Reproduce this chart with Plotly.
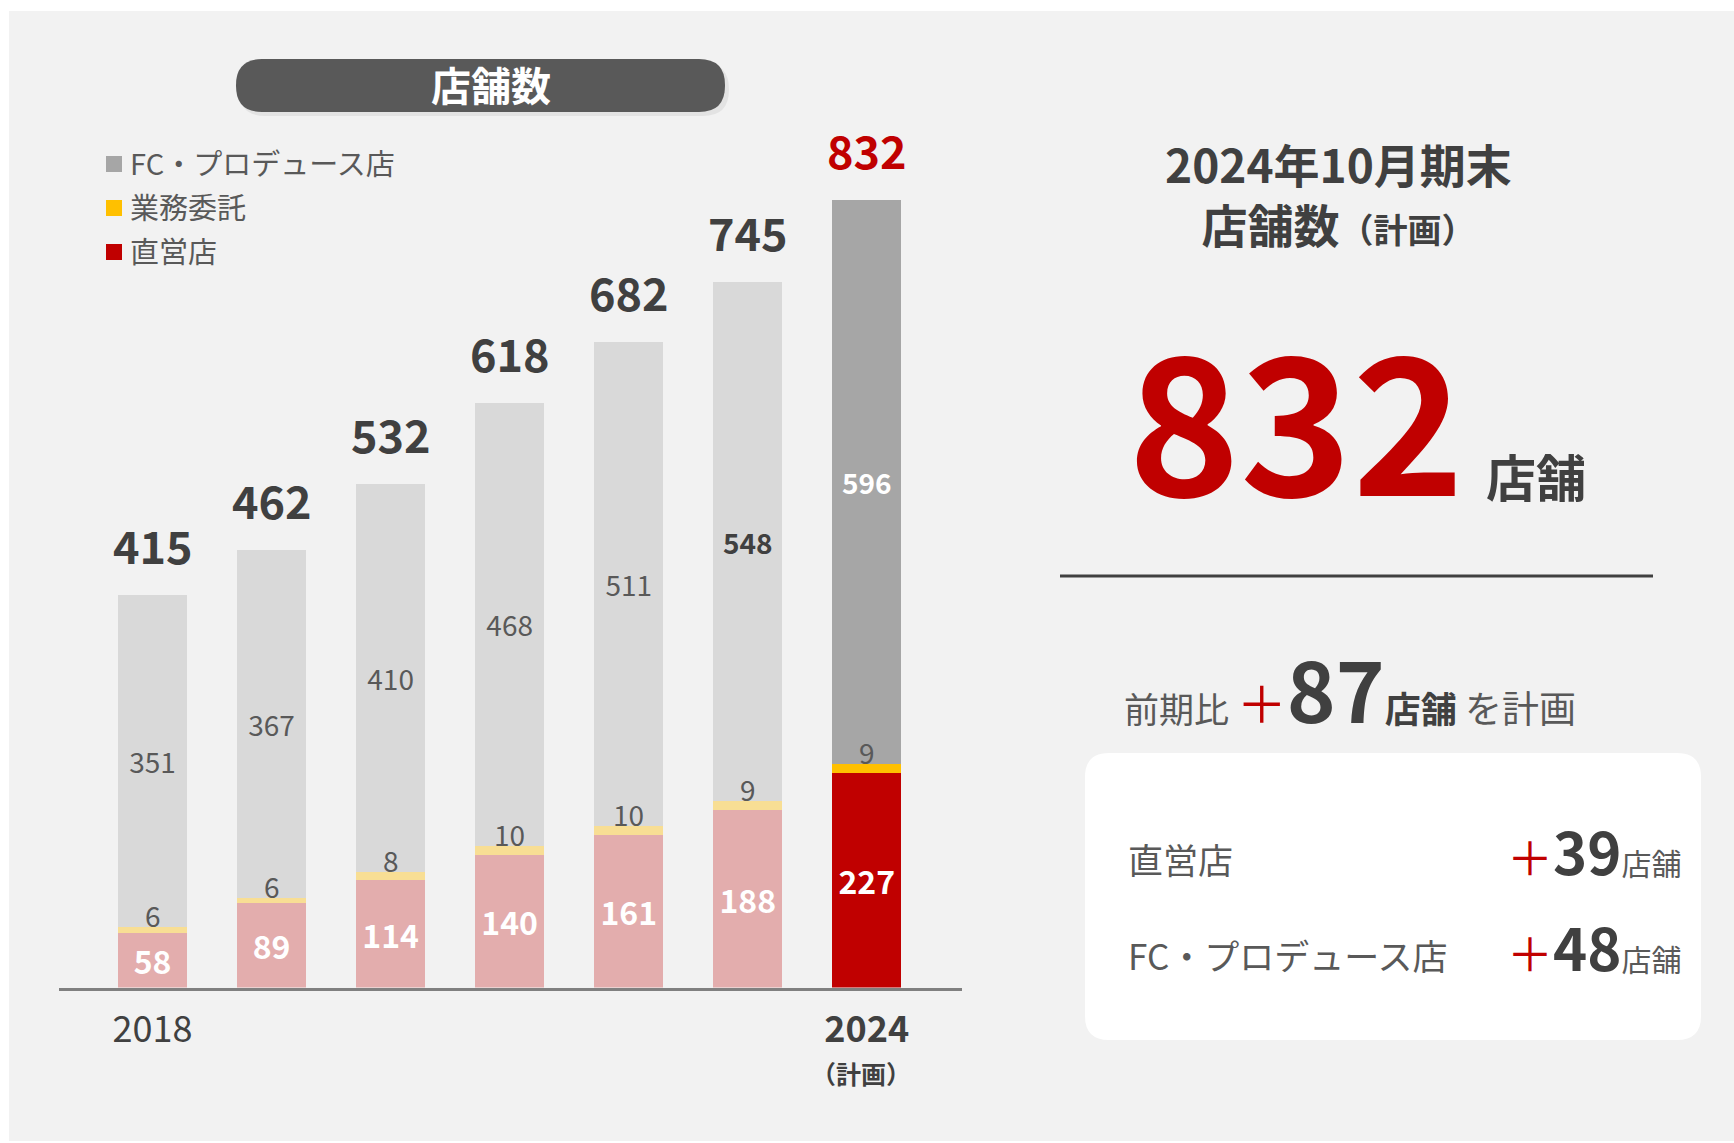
import plotly.graph_objects as go

W, H = 1734, 1143
FONT = "Noto Sans CJK JP"

# ---------------- data ----------------
years = ["2018", "2019", "2020", "2021", "2022", "2023", "2024"]
direct = [58, 89, 114, 140, 161, 188, 227]          # 直営店
outsourced = [6, 6, 8, 10, 10, 9, 9]                # 業務委託
fc = [351, 367, 410, 468, 511, 548, 596]            # FC・プロデュース店
totals = [415, 462, 532, 618, 682, 745, 832]
tick_years = ["2018", "2024"]
tick_labels = ["2018", "<b>2024</b>"]
plan_note = "（計画）"
legend_labels = ["FC・プロデュース店", "業務委託", "直営店"]
fc_text = ["351", "367", "410", "468", "511", "<b>548</b>", "<b>596</b>"]

# ---------------- styles ----------------
fc_colors = ["#D9D9D9"] * 6 + ["#A6A6A6"]
out_colors = ["#F8DE94"] * 6 + ["#FFC000"]
dir_colors = ["#E3ADAD"] * 6 + ["#C00000"]
fc_text_colors = ["#595959"] * 5 + ["#404040", "#FFFFFF"]
legend_colors = ["#A6A6A6", "#FFC000", "#C00000"]
DARK = "#404040"
MID = "#595959"
RED = "#C00000"


def px(x):
    return x / W


def py(y):
    return 1 - y / H


def rrect(x0, y0, x1, y1, r):
    pts = [
        ("M", [(x0 + r, y0)]), ("L", [(x1 - r, y0)]), ("Q", [(x1, y0), (x1, y0 + r)]),
        ("L", [(x1, y1 - r)]), ("Q", [(x1, y1), (x1 - r, y1)]), ("L", [(x0 + r, y1)]),
        ("Q", [(x0, y1), (x0, y1 - r)]), ("L", [(x0, y0 + r)]), ("Q", [(x0, y0), (x0 + r, y0)]),
    ]
    s = ""
    for cmd, ps in pts:
        s += cmd + " " + " ".join(f"{px(a):.5f},{py(b):.5f}" for a, b in ps) + " "
    return s + "Z"


BAR_W = 0.576

fig = go.Figure()
fig.add_trace(go.Bar(
    x=years, y=direct, width=BAR_W, marker=dict(color=dir_colors, line=dict(width=0)),
    text=[str(v) for v in direct], textposition="inside", insidetextanchor="middle",
    textangle=0, constraintext="none",
    textfont=dict(family=FONT, size=32, color="#FFFFFF", weight="bold"),
    hoverinfo="skip", showlegend=False))
fig.add_trace(go.Bar(
    x=years, y=outsourced, width=BAR_W, marker=dict(color=out_colors, line=dict(width=0)),
    hoverinfo="skip", showlegend=False))
fig.add_trace(go.Bar(
    x=years, y=fc, width=BAR_W, marker=dict(color=fc_colors, line=dict(width=0)),
    text=fc_text, textposition="inside", insidetextanchor="middle",
    textangle=0, constraintext="none",
    textfont=dict(family=FONT, size=28, color=fc_text_colors),
    hoverinfo="skip", showlegend=False))

annotations = []
# totals above bars (category index positions)
for i, t in enumerate(totals):
    annotations.append(dict(
        x=i, y=t, xref="x", yref="y", text=f"<b>{t}</b>", showarrow=False,
        yanchor="bottom", yshift=16,
        font=dict(family=FONT, size=45, color=RED if i == len(totals) - 1 else DARK)))
# outsourced labels above yellow segment
for i, (d, o) in enumerate(zip(direct, outsourced)):
    annotations.append(dict(
        x=i, y=d + o, xref="x", yref="y", text=str(o), showarrow=False,
        yanchor="bottom", yshift=-10, font=dict(family=FONT, size=28, color=MID)))
# plan note under 2024 tick
annotations.append(dict(
    x=len(years) - 1, y=py(1073), xref="x", yref="paper", text=f"<b>{plan_note}</b>",
    showarrow=False, xanchor="center", yanchor="middle", xshift=-6,
    font=dict(family=FONT, size=25, color=DARK)))

shapes = []
# background panel
shapes.append(dict(type="rect", xref="paper", yref="paper", x0=px(9), x1=1, y0=py(1141), y1=py(11),
                   fillcolor="#F2F2F2", line=dict(width=0), layer="below"))
# pill title
shapes.append(dict(type="path", xref="paper", yref="paper", path=rrect(239, 63, 729, 116, 26),
                   fillcolor="rgba(0,0,0,0.06)", line=dict(width=0), layer="below"))
shapes.append(dict(type="path", xref="paper", yref="paper", path=rrect(236, 59, 725, 112, 26),
                   fillcolor="#595959", line=dict(width=0), layer="below"))
annotations.append(dict(x=px(491), y=py(84), xref="paper", yref="paper", text="<b>店舗数</b>",
                        showarrow=False, xanchor="center", yanchor="middle",
                        font=dict(family=FONT, size=40, color="#FFFFFF")))
# legend
for k, (lab, col) in enumerate(zip(legend_labels, legend_colors)):
    cy = 164 + 44 * k
    shapes.append(dict(type="rect", xref="paper", yref="paper", x0=px(106), x1=px(122),
                       y0=py(cy + 8), y1=py(cy - 8), fillcolor=col, line=dict(width=0)))
    annotations.append(dict(x=px(128), y=py(cy - 2), xref="paper", yref="paper", text=lab,
                            showarrow=False, xanchor="left", yanchor="middle",
                            font=dict(family=FONT, size=29, color=MID)))

# ---------------- right panel ----------------
annotations.append(dict(x=px(1338), y=py(193), xref="paper", yref="paper",
                        text="<b>2024年10月期末</b><br><b>店舗数</b>"
                             "<span style='font-size:34px'><b>（計画）</b></span>",
                        showarrow=False, xanchor="center", yanchor="middle", align="center",
                        font=dict(family=FONT, size=46, color=DARK)))
annotations.append(dict(x=px(1296), y=py(553), xref="paper", yref="paper",
                        text="<b>832</b>", showarrow=False, xanchor="center", yanchor="bottom",
                        font=dict(family=FONT, size=190, color=RED)))
annotations.append(dict(x=px(1484), y=py(513), xref="paper", yref="paper",
                        text="<b>店舗</b>", showarrow=False, xanchor="left", yanchor="bottom",
                        font=dict(family=FONT, size=50, color=DARK)))
shapes.append(dict(type="line", xref="paper", yref="paper", x0=px(1060), x1=px(1653),
                   y0=py(576), y1=py(576), line=dict(color=DARK, width=3)))

row1 = ("<span style='font-size:35px;color:#595959'>前期比 </span>"
        "<span style='font-size:50px;color:#C00000'>＋</span>"
        "<span style='font-size:83px;color:#404040'><b>87</b></span>"
        "<span style='font-size:36px;color:#404040'><b>店舗</b></span>"
        "<span style='font-size:37px;color:#595959'> を計画</span>")
annotations.append(dict(x=px(1122), y=py(749), xref="paper", yref="paper", text=row1,
                        showarrow=False, xanchor="left", yanchor="bottom",
                        font=dict(family=FONT, size=35, color=MID)))

shapes.append(dict(type="path", xref="paper", yref="paper", path=rrect(1085, 753, 1701, 1040, 24),
                   fillcolor="#FFFFFF", line=dict(width=0)))

annotations.append(dict(x=px(1126), y=py(858), xref="paper", yref="paper", text="直営店",
                        showarrow=False, xanchor="left", yanchor="middle",
                        font=dict(family=FONT, size=35, color=MID)))
annotations.append(dict(x=px(1126), y=py(954), xref="paper", yref="paper", text="FC・プロデュース店",
                        showarrow=False, xanchor="left", yanchor="middle",
                        font=dict(family=FONT, size=35, color=MID)))
for val, base in [(39, 894), (48, 990)]:
    t = ("<span style='font-size:46px;color:#C00000'>＋</span>"
         f"<span style='font-size:58px;color:#404040'><b>{val}</b></span>"
         "<span style='font-size:30px;color:#595959'>店舗</span>")
    annotations.append(dict(x=px(1683), y=py(base), xref="paper", yref="paper", text=t,
                            showarrow=False, xanchor="right", yanchor="bottom",
                            font=dict(family=FONT, size=30, color=MID)))

fig.update_layout(
    width=W, height=H, autosize=False,
    margin=dict(l=0, r=0, t=0, b=0),
    paper_bgcolor="#FFFFFF", plot_bgcolor="rgba(0,0,0,0)",
    barmode="stack", showlegend=False,
    font=dict(family=FONT, color=DARK),
    xaxis=dict(domain=[px(59), px(962)], range=[-0.786, 6.80], type="category",
               tickmode="array", tickvals=tick_years, ticktext=tick_labels,
               showline=True, linecolor="#808080", linewidth=3, showgrid=False, zeroline=False,
               ticks="outside", ticklen=8, tickcolor="rgba(0,0,0,0)",
               tickfont=dict(family=FONT, size=36, color=DARK), fixedrange=True),
    yaxis=dict(domain=[py(987.5), py(987.5 - 900 * 0.9465)], range=[0, 900], visible=False,
               fixedrange=True),
    shapes=shapes, annotations=annotations,
)

fig.write_html("out.html", config={"displayModeBar": False},
               post_script="document.body.style.margin='0';")
